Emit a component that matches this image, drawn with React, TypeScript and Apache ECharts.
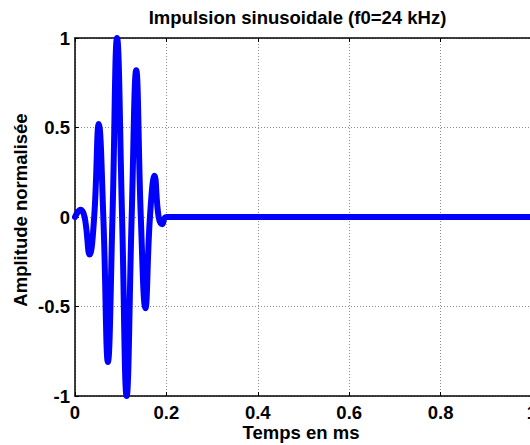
import React, { useEffect, useRef } from "react";
import * as echarts from "echarts";

const titleText = "Impulsion sinusoidale (f0=24 kHz)";
const xName = "Temps en ms";
const yName = "Amplitude normalisée";

// time (ms) and normalised amplitude
const times = [
  0, 0.012, 0.021, 0.032, 0.042, 0.052, 0.062, 0.072, 0.082, 0.092, 0.103,
  0.113, 0.124, 0.134, 0.144, 0.154, 0.164, 0.174, 0.183, 0.191, 0.2, 1.0,
];
const amplitudes = [
  0, 0.04, 0, -0.21, 0, 0.52, 0, -0.81, 0, 1.0, 0,
  -1.0, 0, 0.82, 0, -0.51, 0, 0.23, 0, -0.04, 0, 0,
];

const xTicks = [0, 0.2, 0.4, 0.6, 0.8, 1];
const yTicks = [-1, -0.5, 0, 0.5, 1];

const FONT = "'Liberation Sans', Arial, sans-serif";
const FS = 18.5;

export default function App() {
  const ref = useRef<HTMLDivElement>(null);
  useEffect(() => {
    if (!ref.current) return;
    const chart = echarts.init(ref.current, undefined, { renderer: "svg" });
    const data = times.map((t, i) => [t, amplitudes[i]]);
    const gridColor = "#8c8c8c";
    chart.setOption({
      animation: false,
      backgroundColor: "#ffffff",
      grid: { left: 75, top: 38, width: 457, height: 358, containLabel: false },
      xAxis: [
        {
          type: "value",
          min: xTicks[0],
          max: xTicks[xTicks.length - 1],
          interval: 0.2,
          position: "bottom",
          axisLine: { show: true, onZero: false, lineStyle: { color: "#000", width: 1.5 } },
          axisTick: { show: true, inside: true, length: 4, lineStyle: { color: "#000" } },
          axisLabel: {
            show: true,
            margin: 7,
            color: "#000",
            fontFamily: FONT,
            fontWeight: "bold",
            fontSize: FS,
          },
          splitLine: { show: true, lineStyle: { color: gridColor, width: 1, type: [1, 2] } },
        },
        {
          type: "value",
          min: xTicks[0],
          max: xTicks[xTicks.length - 1],
          interval: 0.2,
          position: "top",
          axisLine: { show: true, onZero: false, lineStyle: { color: "#000", width: 1.5 } },
          axisTick: { show: true, inside: true, length: 4, lineStyle: { color: "#000" } },
          axisLabel: { show: false },
          splitLine: { show: false },
        },
      ],
      yAxis: [
        {
          type: "value",
          min: yTicks[0],
          max: yTicks[yTicks.length - 1],
          interval: 0.5,
          axisLine: { show: true, onZero: false, lineStyle: { color: "#000", width: 1.5 } },
          axisTick: { show: true, inside: true, length: 4, lineStyle: { color: "#000" } },
          axisLabel: {
            show: true,
            margin: 5,
            color: "#000",
            fontFamily: FONT,
            fontWeight: "bold",
            fontSize: FS,
          },
          splitLine: { show: true, lineStyle: { color: gridColor, width: 1, type: [1, 2] } },
        },
      ],
      graphic: [
        {
          type: "text",
          x: 297.5,
          y: 17.5,
          style: {
            text: titleText,
            fill: "#000",
            font: `bold ${FS}px ${FONT}`,
            textAlign: "center",
            textVerticalAlign: "middle",
          },
        },
        {
          type: "text",
          x: 301,
          y: 432,
          style: {
            text: xName,
            fill: "#000",
            font: `bold ${FS}px ${FONT}`,
            textAlign: "center",
            textVerticalAlign: "middle",
          },
        },
        {
          type: "text",
          x: 20,
          y: 210,
          rotation: Math.PI / 2,
          style: {
            text: yName,
            fill: "#000",
            font: `bold ${FS}px ${FONT}`,
            textAlign: "center",
            textVerticalAlign: "middle",
          },
        },
      ],
      series: [
        {
          type: "line",
          data,
          smooth: 0.45,
          clip: false,
          symbol: "none",
          lineStyle: { color: "#0000ff", width: 6, join: "round", cap: "round" },
        },
      ],
    });
    return () => chart.dispose();
  }, []);
  return (
    <div
      style={{
        position: "absolute",
        left: 0,
        top: 0,
        width: 530,
        height: 445,
        overflow: "hidden",
        background: "#fff",
      }}
    >
      <div ref={ref} style={{ width: 545, height: 445 }} />
    </div>
  );
}
